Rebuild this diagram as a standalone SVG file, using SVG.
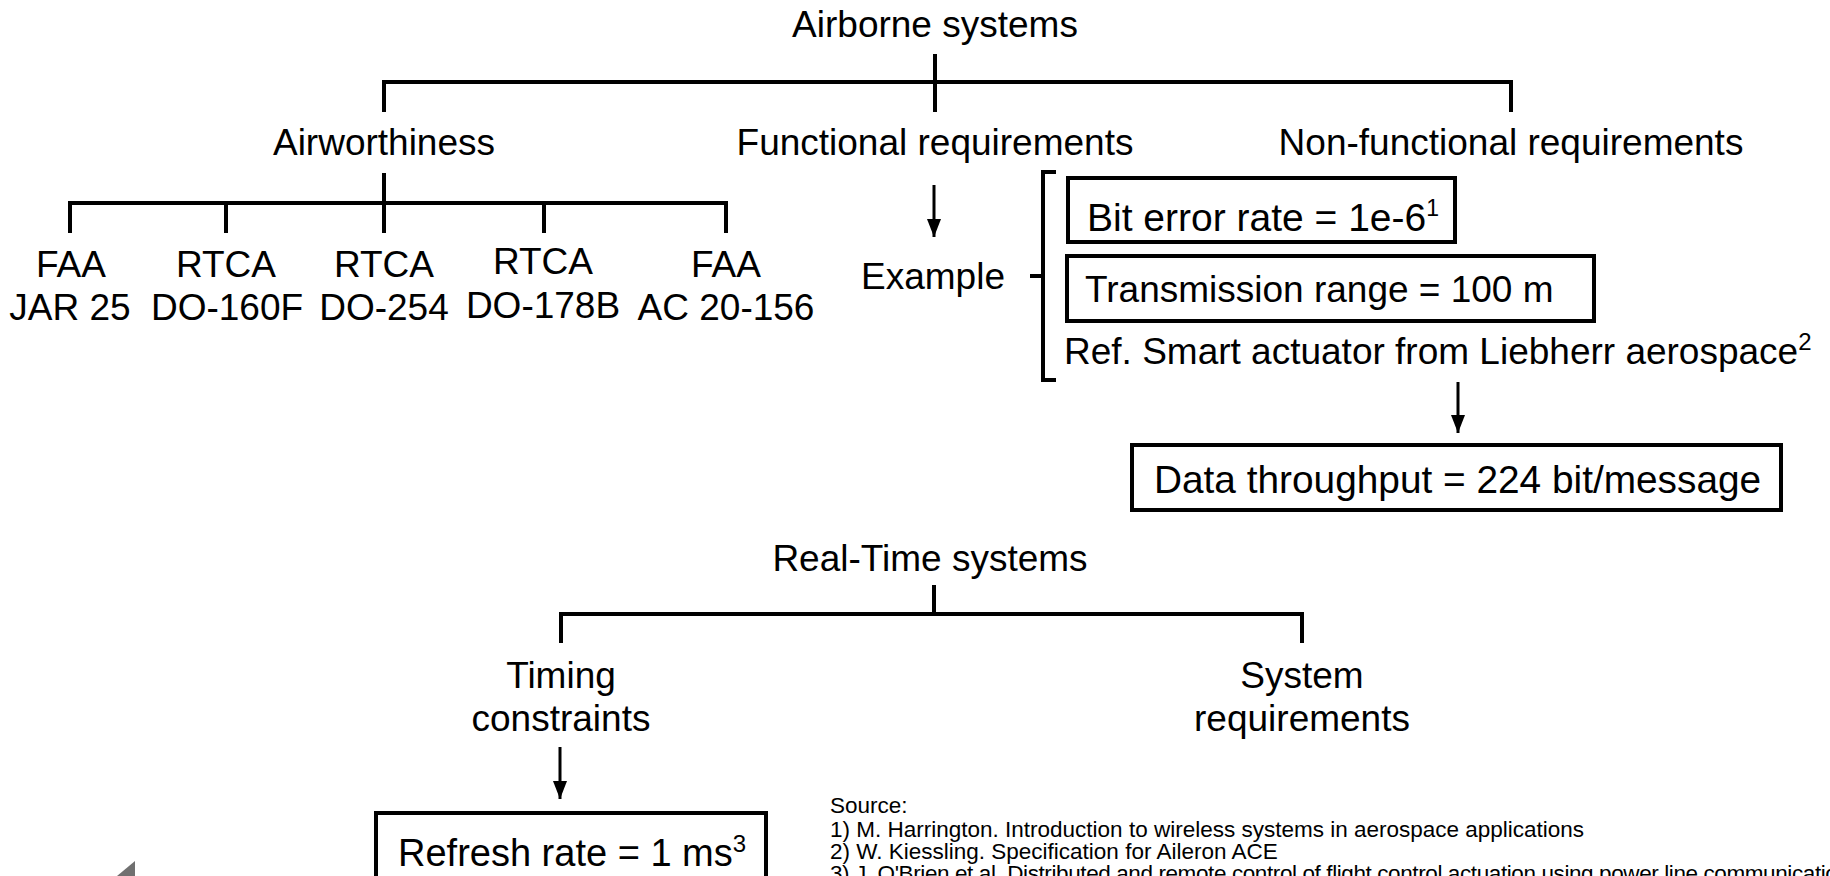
<svg xmlns="http://www.w3.org/2000/svg" width="1830" height="876" viewBox="0 0 1830 876">
<style>
.t{font-family:"Liberation Sans",Arial,sans-serif;font-size:37px;fill:#000}
.c{text-anchor:middle}
.b{font-size:38px}
.s{font-family:"Liberation Sans",Arial,sans-serif;font-size:22.5px;fill:#000}
.ln{stroke:#000;stroke-width:4;fill:none}
.ar{stroke:#000;stroke-width:3;fill:none}
.bx{fill:#fff;stroke:#000;stroke-width:4}
</style>
<defs>
<marker id="ah" markerUnits="userSpaceOnUse" markerWidth="18" markerHeight="14" viewBox="0 0 18 14" refX="18" refY="7" orient="auto">
<path d="M0,0 L18,7 L0,14 z" fill="#000"/>
</marker>
</defs>
<rect width="1830" height="876" fill="#fff"/>
<g id="connectors">
<path class="ln" d="M935,54 V112 M384,112 V82 H1511 V112"/>
<path class="ln" d="M384,173 V233 M70,233 V203 H726 V233 M226,203 V233 M544,203 V233"/>
<path class="ar" d="M934,185 V237" marker-end="url(#ah)"/>
<path class="ln" d="M1030,276 H1041"/>
<path class="ln" d="M1056,172 H1043 V380 H1056"/>
<path class="ar" d="M1458,382 V433" marker-end="url(#ah)"/>
<path class="ln" d="M934,585 V614 M561,643 V614 H1302 V643"/>
<path class="ar" d="M560,747 V799" marker-end="url(#ah)"/>
</g>
<g id="airborne"><text class="t c" x="935" y="37">Airborne systems</text></g>
<g id="airworthiness"><text class="t c" x="384" y="155">Airworthiness</text></g>
<g id="functional"><text class="t c" x="935" y="155">Functional requirements</text></g>
<g id="nonfunctional"><text class="t c" x="1511" y="155">Non-functional requirements</text></g>
<g id="faa-jar"><text class="t c" x="71" y="277">FAA</text><text class="t c" x="70" y="320">JAR 25</text></g>
<g id="rtca-160"><text class="t c" x="226" y="277">RTCA</text><text class="t c" x="227" y="320">DO-160F</text></g>
<g id="rtca-254"><text class="t c" x="384" y="277">RTCA</text><text class="t c" x="384" y="320">DO-254</text></g>
<g id="rtca-178"><text class="t c" x="543" y="274">RTCA</text><text class="t c" x="543" y="318">DO-178B</text></g>
<g id="faa-ac"><text class="t c" x="726" y="277">FAA</text><text class="t c" x="726" y="320">AC 20-156</text></g>
<g id="example"><text class="t" x="1005" y="289" text-anchor="end">Example</text></g>
<g id="ber"><rect class="bx" x="1068" y="178" width="387" height="64"/><text class="t" x="1087" y="231" style="font-size:39px">Bit error rate = 1e-6<tspan style="font-size:23px" dy="-15">1</tspan></text></g>
<g id="range"><rect class="bx" x="1067" y="256" width="527" height="65"/><text class="t" x="1085" y="302">Transmission range = 100 m</text></g>
<g id="ref"><text class="t" x="1064" y="364">Ref. Smart actuator from Liebherr aerospace<tspan style="font-size:24px" dy="-14">2</tspan></text></g>
<g id="throughput"><rect class="bx" x="1132" y="445" width="649" height="65"/><text class="t" x="1154" y="493" style="font-size:38.8px">Data throughput = 224 bit/message</text></g>
<g id="realtime"><text class="t c" x="930" y="571">Real-Time systems</text></g>
<g id="timing"><text class="t c" x="561" y="688">Timing</text><text class="t c" x="561" y="731">constraints</text></g>
<g id="sysreq"><text class="t c" x="1302" y="688">System</text><text class="t c" x="1302" y="731">requirements</text></g>
<g id="refresh"><rect class="bx" x="376" y="813" width="390" height="100"/><text class="t b" x="398" y="866">Refresh rate = 1 ms<tspan style="font-size:24px" dy="-14">3</tspan></text></g>
<g id="sources">
<text class="s" x="830" y="813">Source:</text>
<text class="s" x="830" y="837">1) M. Harrington. Introduction to wireless systems in aerospace applications</text>
<text class="s" x="830" y="859">2) W. Kiessling. Specification for Aileron ACE</text>
<text class="s" x="830" y="881" style="letter-spacing:-0.4px">3) J. O'Brien et al. Distributed and remote control of flight control actuation using power line communications</text>
</g>
<polygon points="135,861 135,876 117,876" fill="#707070"/>
</svg>
